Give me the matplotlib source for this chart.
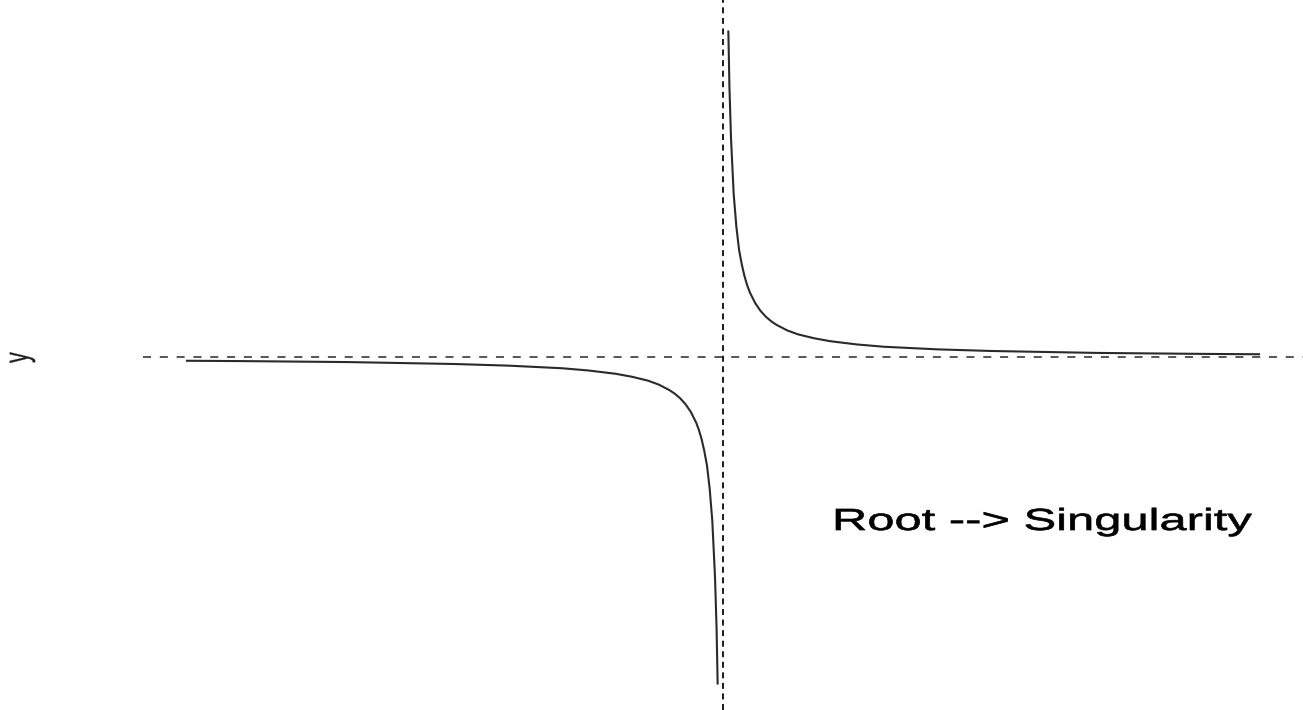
import matplotlib
matplotlib.use("Agg")
import matplotlib.pyplot as plt
import matplotlib.patheffects as pe
from matplotlib.transforms import Affine2D
import numpy as np

# values (right branch; left branch mirrors it)
x_right = [0.01, 0.012, 0.015, 0.02, 0.025, 0.03, 0.035, 0.04, 0.045, 0.05,
           0.06, 0.07, 0.08, 0.09, 0.1, 0.12, 0.14, 0.17, 0.2, 0.25,
           0.3, 0.35, 0.4, 0.5, 0.6, 0.7, 0.8, 0.9, 1.0]
y_right = [100, 83, 67, 50, 40, 33, 28.6, 25, 22.2, 20,
           16.7, 14.3, 12.5, 11.1, 10, 8.3, 7.1, 5.9, 5, 4,
           3.3, 2.9, 2.5, 2, 1.7, 1.4, 1.25, 1.1, 1.0]
x_left = [-v for v in x_right]
y_left = [-v for v in y_right]

label_text = "Root --> Singularity"
ylabel_text = "y"

W, H = 1303, 710


class Stretch(pe.AbstractPathEffect):
    # widen glyphs horizontally about the text origin
    def __init__(self, sx, stroke=0.0):
        super().__init__()
        self.sx = sx
        self.stroke = stroke

    def draw_path(self, renderer, gc, tpath, affine, rgbFace=None):
        x0 = affine.get_matrix()[0, 2]
        affine = affine + Affine2D().translate(-x0, 0).scale(self.sx, 1).translate(x0, 0)
        gc0 = renderer.new_gc()
        gc0.copy_properties(gc)
        gc0.set_linewidth(self.stroke)
        if rgbFace is not None:
            gc0.set_foreground(rgbFace)
        renderer.draw_path(gc0, tpath, affine, rgbFace)
        gc0.restore()


plt.rcParams['font.family'] = ['Liberation Sans', 'DejaVu Sans']
plt.rcParams['lines.scale_dashes'] = False

fig = plt.figure(figsize=(W / 100, H / 100), dpi=100)
fig.patch.set_facecolor('white')
ax = fig.add_axes([143 / W, 0, 1160 / W, 1])

ax.plot(x_right, y_right, color='#2a2a2a', linewidth=1.5)
ax.plot(x_left, y_left, color='#2a2a2a', linewidth=1.5)

ax.axhline(0, color='#3a3a3a', linewidth=1.2, dashes=(5.8, 6.3))
ax.axvline(0, color='#1a1a1a', linewidth=1.4, dashes=(4.3, 3.3))

ax.set_xlim(-580 / 536, 580 / 536)
ax.set_ylim(-352.5 / 3.26, 357.5 / 3.26)
ax.axis('off')

fig.text(832 / W, 1 - 530 / H, label_text, fontsize=22, color='black',
         ha='left', va='baseline', path_effects=[Stretch(1.6, 0.5)])
fig.text(28 / W, 1 - 363 / H, ylabel_text, fontsize=15.5, color='#202020',
         rotation=90, rotation_mode='anchor', ha='left', va='baseline',
         path_effects=[Stretch(1.6, 0.2)])

fig.savefig("out.png", dpi=100, facecolor='white')
